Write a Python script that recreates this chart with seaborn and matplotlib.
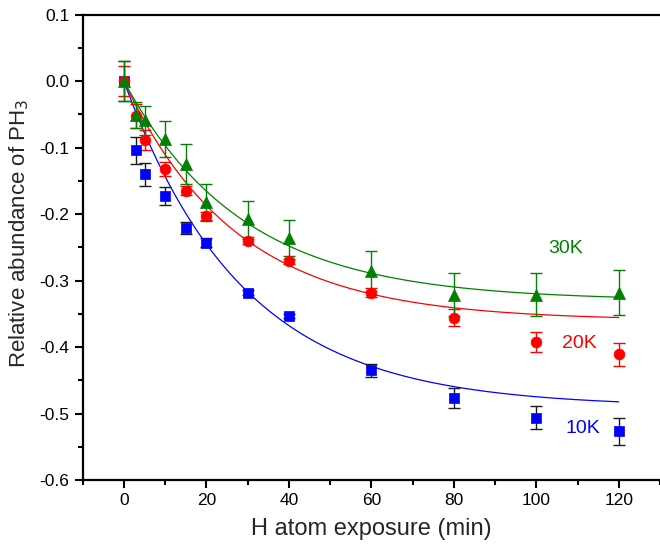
import numpy as np
import pandas as pd
import matplotlib
matplotlib.use("Agg")
import matplotlib.pyplot as plt
import seaborn as sns
from matplotlib.ticker import MultipleLocator

# Exposure times (min)
time_min = [0, 3, 5, 10, 15, 20, 30, 40, 60, 80, 100, 120]

# Relative abundance of PH3 and its uncertainty at each temperature
abund_10k = [0.0, -0.104, -0.140, -0.173, -0.221, -0.243, -0.318, -0.354, -0.435, -0.476, -0.506, -0.527]
err_10k = [0.030, 0.020, 0.017, 0.014, 0.009, 0.007, 0.004, 0.003, 0.010, 0.015, 0.017, 0.020]

abund_20k = [0.0, -0.053, -0.089, -0.132, -0.165, -0.203, -0.241, -0.271, -0.318, -0.356, -0.392, -0.411]
err_20k = [0.023, 0.018, 0.015, 0.010, 0.007, 0.006, 0.004, 0.004, 0.007, 0.013, 0.015, 0.017]

abund_30k = [0.0, -0.051, -0.059, -0.087, -0.124, -0.182, -0.208, -0.236, -0.285, -0.321, -0.321, -0.318]
err_30k = [0.030, 0.020, 0.022, 0.027, 0.030, 0.028, 0.027, 0.027, 0.030, 0.032, 0.032, 0.034]

# Exponential fits y = -A * (1 - exp(-k t)): amplitude and rate constant (1/min)
fit_amp = {"10K": 0.490, "20K": 0.360, "30K": 0.330}
fit_rate = {"10K": 0.0347, "20K": 0.0367, "30K": 0.0348}

y_ticks = [-0.6, -0.5, -0.4, -0.3, -0.2, -0.1, 0.0, 0.1]
y_tick_labels = ["-0.6", "-0.5", "-0.4", "-0.3", "-0.2", "-0.1", "0.0", "0.1"]

labels = ["10K", "20K", "30K"]
colors = {"10K": "#0000ff", "20K": "#ff0000", "30K": "#008000"}
ecolors = {"10K": "#1a1a1a", "20K": "#ff0000", "30K": "#008000"}
markers = {"10K": "s", "20K": "o", "30K": "^"}
msizes = {"10K": 55, "20K": 60, "30K": 75}

data = pd.concat([
    pd.DataFrame({"t": time_min, "y": abund_10k, "err": err_10k, "T": "10K"}),
    pd.DataFrame({"t": time_min, "y": abund_20k, "err": err_20k, "T": "20K"}),
    pd.DataFrame({"t": time_min, "y": abund_30k, "err": err_30k, "T": "30K"}),
], ignore_index=True)

t_fit = np.linspace(0, 120, 300)
fits = pd.concat([
    pd.DataFrame({"t": t_fit,
                  "y": -fit_amp[k] * (1 - np.exp(-fit_rate[k] * t_fit)),
                  "T": k})
    for k in labels
], ignore_index=True)

sns.set_style("ticks")
plt.rcParams["font.family"] = ["Liberation Sans", "DejaVu Sans"]

fig = plt.figure(figsize=(6.6, 5.52), dpi=100)
ax = fig.add_axes([0.1253, 0.1304, 0.8747, 0.843])

# Fitted curves
sns.lineplot(data=fits, x="t", y="y", hue="T", palette=colors,
             linewidth=0.9, legend=False, ax=ax, zorder=2)

# Error bars
for k in labels:
    sub = data[data["T"] == k]
    ax.errorbar(sub["t"], sub["y"], yerr=sub["err"], fmt="none",
                ecolor=ecolors[k], elinewidth=1.0, capsize=4, capthick=1.0,
                zorder=3)

# Data points
for k in labels:
    sub = data[data["T"] == k]
    sns.scatterplot(data=sub, x="t", y="y", color=colors[k], marker=markers[k],
                    s=msizes[k], edgecolor=colors[k], linewidth=0.5,
                    legend=False, ax=ax, zorder=4)

# Series labels
ax.text(107, -0.251, "30K", color=colors["30K"], fontsize=14, ha="center", va="center")
ax.text(110.5, -0.394, "20K", color=colors["20K"], fontsize=14, ha="center", va="center")
ax.text(111.2, -0.522, "10K", color=colors["10K"], fontsize=14, ha="center", va="center")

ax.set_xlim(-10, 130)
ax.xaxis.set_major_locator(MultipleLocator(20))
ax.xaxis.set_minor_locator(MultipleLocator(10))
ax.set_yticks(y_ticks)
ax.set_yticklabels(y_tick_labels)
ax.yaxis.set_minor_locator(MultipleLocator(0.05))
ax.set_ylim(-0.6, 0.1)

ax.tick_params(axis="both", which="major", direction="out", length=6, width=1.5,
               labelsize=12.5, color="black", labelcolor="black")
ax.tick_params(axis="both", which="minor", direction="out", length=3.5, width=1.5,
               color="black")

for side in ["left", "bottom", "top"]:
    ax.spines[side].set_linewidth(1.6)
    ax.spines[side].set_color("black")
ax.spines["right"].set_visible(False)

ax.set_xlabel("H atom exposure (min)", fontsize=17, labelpad=7)
ax.set_ylabel("Relative abundance of PH$_3$", fontsize=16)
ax.yaxis.set_label_coords(-0.09, 0.53)

fig.savefig("out.png", dpi=100)
